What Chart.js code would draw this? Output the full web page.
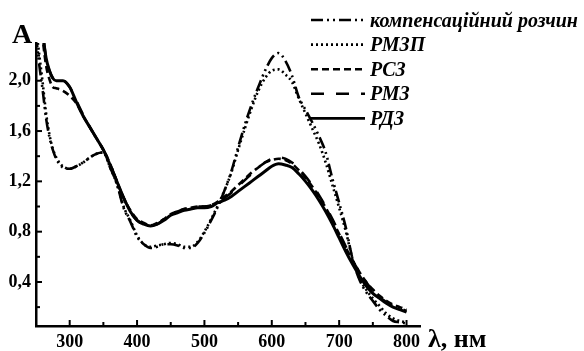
<!DOCTYPE html>
<html>
<head>
<meta charset="utf-8">
<script src="https://cdn.jsdelivr.net/npm/chart.js@4.4.0/dist/chart.umd.min.js"></script>
<style>
  html, body { margin: 0; padding: 0; background: #fff; }
</style>
</head>
<body>
<canvas id="spectraChart" width="584" height="351"></canvas>
<script>
// wavelength grid, nm
const wavelengths = [250, 255, 260, 265, 270, 275, 280, 290, 300, 310, 320, 330, 340, 350, 360, 370, 380, 390, 400, 410,
  420, 430, 440, 450, 460, 470, 480, 490, 500, 510, 520, 530, 540, 550, 560, 570, 580, 590, 600, 610,
  620, 630, 640, 650, 660, 670, 680, 690, 700, 710, 720, 730, 740, 750, 760, 770, 780, 790, 800]

// absorbance per series (same order as wavelengths)
const kompRozchyn = [2.36, 2.12, 1.92, 1.70, 1.55, 1.45, 1.38, 1.31, 1.30, 1.32, 1.35, 1.39, 1.42, 1.43, 1.31, 1.18, 0.99, 0.88, 0.76, 0.70,
  0.67, 0.68, 0.70, 0.70, 0.69, 0.67, 0.67, 0.71, 0.79, 0.89, 1.00, 1.13, 1.28, 1.47, 1.65, 1.81, 1.95, 2.08, 2.18, 2.22,
  2.16, 2.04, 1.87, 1.77, 1.67, 1.56, 1.43, 1.22, 1.03, 0.83, 0.58, 0.42, 0.32, 0.25, 0.18, 0.13, 0.09, 0.08, 0.07]
const rmzp = [2.42, 2.20, 1.98, 1.74, 1.57, 1.46, 1.39, 1.32, 1.30, 1.32, 1.35, 1.39, 1.42, 1.43, 1.31, 1.18, 1.00, 0.89, 0.77, 0.70,
  0.68, 0.69, 0.70, 0.71, 0.70, 0.68, 0.68, 0.72, 0.80, 0.90, 1.01, 1.13, 1.27, 1.45, 1.62, 1.78, 1.92, 2.02, 2.08, 2.09,
  2.05, 1.99, 1.86, 1.74, 1.62, 1.50, 1.35, 1.17, 0.99, 0.80, 0.58, 0.43, 0.34, 0.27, 0.21, 0.15, 0.11, 0.09, 0.08]
const rsz = [2.90, 2.60, 2.33, 2.12, 2.01, 1.95, 1.94, 1.92, 1.88, 1.82, 1.72, 1.63, 1.54, 1.45, 1.34, 1.20, 1.07, 0.97, 0.90, 0.87,
  0.85, 0.87, 0.90, 0.94, 0.96, 0.98, 0.99, 1.00, 1.00, 1.01, 1.04, 1.08, 1.12, 1.17, 1.22, 1.27, 1.31, 1.35, 1.37, 1.38,
  1.37, 1.34, 1.29, 1.23, 1.16, 1.08, 0.99, 0.89, 0.78, 0.67, 0.57, 0.48, 0.40, 0.34, 0.29, 0.25, 0.22, 0.20, 0.18]
const rmz = [2.90, 2.62, 2.38, 2.18, 2.08, 2.02, 2.00, 2.00, 1.95, 1.84, 1.73, 1.63, 1.54, 1.45, 1.34, 1.20, 1.07, 0.96, 0.89, 0.86,
  0.85, 0.86, 0.90, 0.94, 0.96, 0.98, 0.99, 1.00, 1.00, 1.01, 1.04, 1.07, 1.11, 1.16, 1.21, 1.26, 1.31, 1.35, 1.38, 1.39,
  1.38, 1.35, 1.30, 1.24, 1.17, 1.09, 1.00, 0.90, 0.79, 0.68, 0.57, 0.48, 0.40, 0.33, 0.28, 0.24, 0.21, 0.19, 0.17]
const rdz = [2.90, 2.62, 2.38, 2.18, 2.08, 2.02, 2.00, 2.00, 1.95, 1.83, 1.72, 1.63, 1.54, 1.45, 1.33, 1.20, 1.07, 0.96, 0.89, 0.86,
  0.845, 0.86, 0.89, 0.93, 0.95, 0.97, 0.98, 0.99, 0.99, 1.00, 1.03, 1.05, 1.08, 1.12, 1.16, 1.20, 1.24, 1.28, 1.32, 1.34,
  1.33, 1.31, 1.26, 1.20, 1.13, 1.05, 0.96, 0.86, 0.75, 0.64, 0.54, 0.45, 0.37, 0.31, 0.27, 0.23, 0.20, 0.18, 0.16]

const seriesNames = ['компенсаційний розчин', 'РМЗП', 'РСЗ', 'РМЗ', 'РДЗ']
const xTicks = [300, 400, 500, 600, 700, 800]
const xMinor = [350, 450, 550, 650, 750]
const yTicks = [0.4, 0.8, 1.2, 1.6, 2.0]
const yMinor = [0.2, 0.6, 1.0, 1.4, 1.8, 2.2]

const serif = '"Liberation Serif", "DejaVu Serif", serif'
const toPoints = arr => wavelengths.map((w, i) => ({ x: w, y: arr[i] }))

// inward ticks, legend and axis captions
const axisMarks = {
    id: 'axisMarks',
    afterDraw(chart) {
        const { ctx, chartArea: a, scales: { x, y } } = chart
        ctx.save()
        ctx.strokeStyle = '#000'
        ctx.fillStyle = '#000'
        ctx.lineWidth = 2
        const mark = (px, py, dx, dy) => {
            ctx.beginPath()
            ctx.moveTo(px, py)
            ctx.lineTo(px + dx, py + dy)
            ctx.stroke()
        }
        xTicks.forEach(v => mark(x.getPixelForValue(v), a.bottom, 0, -6))
        xMinor.forEach(v => mark(x.getPixelForValue(v), a.bottom, 0, -4))
        yTicks.forEach(v => mark(a.left, y.getPixelForValue(v), 6, 0))
        yMinor.forEach(v => mark(a.left, y.getPixelForValue(v), 4, 0))

        // legend
        chart.data.datasets.forEach((ds, i) => {
            const ly = 20 + i * 24.6
            ctx.lineWidth = 2.6
            ctx.setLineDash(ds.borderDash || [])
            ctx.beginPath()
            ctx.moveTo(311, ly)
            ctx.lineTo(365, ly)
            ctx.stroke()
            ctx.setLineDash([])
            ctx.font = 'italic bold 20px ' + serif
            ctx.textAlign = 'left'
            ctx.textBaseline = 'alphabetic'
            ctx.fillText(ds.label, 370, ly + 6.5)
        })

        ctx.font = 'bold 28px ' + serif
        ctx.fillText('A', 12, 43)
        ctx.font = 'bold 26px ' + serif
        ctx.fillText('λ, нм', 428, 347)
        ctx.restore()
    }
}

const datasets = [
    { label: seriesNames[0], data: toPoints(kompRozchyn), borderDash: [12, 4, 2, 4, 2, 4], borderWidth: 2.6 },
    { label: seriesNames[1], data: toPoints(rmzp), borderDash: [2, 3], borderWidth: 2.6 },
    { label: seriesNames[2], data: toPoints(rsz), borderDash: [7, 4], borderWidth: 2.6 },
    { label: seriesNames[3], data: toPoints(rmz), borderDash: [13, 12], borderWidth: 2.6 },
    { label: seriesNames[4], data: toPoints(rdz), borderDash: [], borderWidth: 3 },
].map(ds => ({ ...ds, borderColor: '#000', backgroundColor: '#000', fill: false }))

const tickFont = { family: serif, size: 18, weight: 'bold' }

const spectraChart = new Chart(document.getElementById('spectraChart'), {
    type: 'line',
    data: { datasets },
    options: {
        responsive: false,
        animation: false,
        devicePixelRatio: 1,
        layout: { padding: { left: 0, top: 43, right: 164, bottom: 0 } },
        plugins: { legend: { display: false }, tooltip: { enabled: false } },
        elements: {
            point: { radius: 0 },
            line: { cubicInterpolationMode: 'monotone', borderCapStyle: 'butt' }
        },
        scales: {
            x: {
                type: 'linear',
                min: 250,
                max: 820,
                afterFit: s => { s.height = 25 },
                afterBuildTicks: s => { s.ticks = xTicks.map(v => ({ value: v })) },
                grid: { display: false, drawTicks: false },
                border: { display: true, color: '#000', width: 2.5 },
                ticks: { font: tickFont, color: '#000', padding: 6, maxRotation: 0, autoSkip: false }
            },
            y: {
                min: 0.05,
                max: 2.3,
                afterFit: s => { s.width = 36 },
                afterBuildTicks: s => { s.ticks = yTicks.map(v => ({ value: v })) },
                grid: { display: false, drawTicks: false },
                border: { display: true, color: '#000', width: 2.5 },
                ticks: {
                    font: tickFont, color: '#000', padding: 5, autoSkip: false,
                    callback: v => v.toFixed(1).replace('.', ',')
                }
            }
        }
    },
    plugins: [axisMarks]
})
</script>
</body>
</html>
